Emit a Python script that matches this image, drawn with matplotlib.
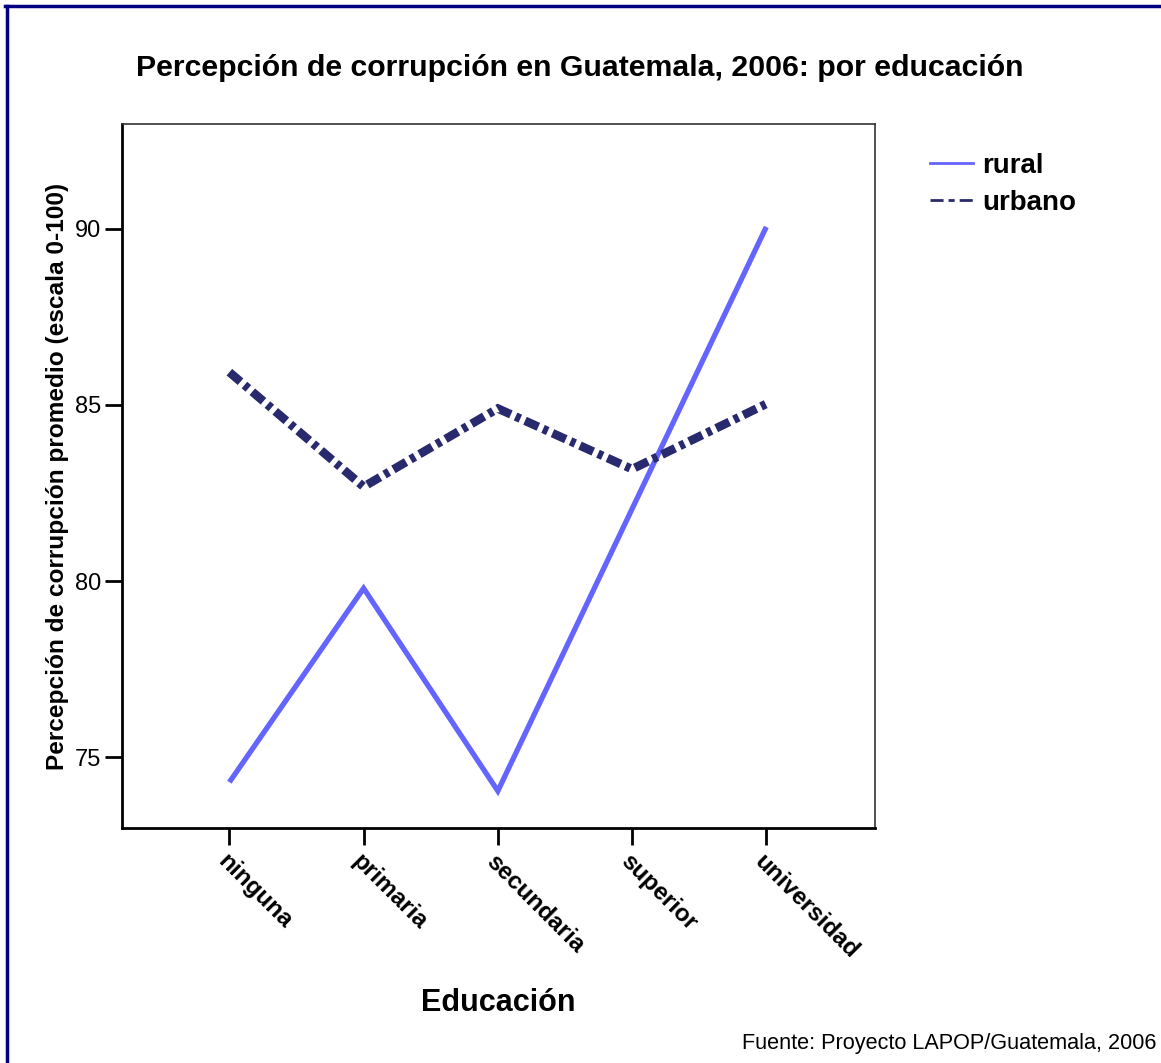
import matplotlib
matplotlib.use("Agg")
import matplotlib.pyplot as plt
from matplotlib.lines import Line2D

plt.rcParams['font.family'] = ['Liberation Sans', 'DejaVu Sans']

# datos
educacion = ["ninguna", "primaria", "secundaria", "superior", "universidad"]
rural = [74.3, 79.8, 74.05, 82.05, 90.05]
urbano = [85.93, 82.68, 84.9, 83.18, 85.03]
yticks = [75, 80, 85, 90]

color_rural = "#6464ff"
color_urbano = "#29296e"
borde = "#000080"

fig = plt.figure(figsize=(11.61, 10.63), dpi=100)
ax = fig.add_axes([122 / 1161, 1 - 828 / 1063, (875 - 122) / 1161, (828 - 124) / 1063])

x = list(range(len(educacion)))
ax.plot(x, rural, color=color_rural, lw=3.8, solid_capstyle="butt", solid_joinstyle="miter")
ax.plot(x, urbano, color=color_urbano, lw=6.2, linestyle=(0, (1.7, 0.6, 0.6, 0.6)),
        dash_capstyle="butt", dash_joinstyle="miter")

ax.set_xlim(-0.8, 4.81)
ax.set_ylim(73.0, 92.97)
ax.set_yticks(yticks)
ax.set_yticklabels([str(v) for v in yticks], fontsize=17)
ax.set_xticks(x)
ax.set_xticklabels(educacion, fontsize=17.5, fontweight="bold", rotation=-45,
                   ha="left", va="top", rotation_mode="anchor")
ax.tick_params(axis="both", direction="out", length=12, width=2, color="black")
ax.tick_params(axis="y", pad=3)
ax.tick_params(axis="x", pad=4)

for lado in ["left", "bottom"]:
    ax.spines[lado].set_linewidth(2)
    ax.spines[lado].set_color("black")
for lado in ["top", "right"]:
    ax.spines[lado].set_linewidth(1.2)
    ax.spines[lado].set_color("#333333")

ax.set_ylabel("Percepción de corrupción promedio (escala 0-100)", fontsize=17.6,
              fontweight="bold", labelpad=4)
ax.set_xlabel("Educación", fontsize=22, fontweight="bold", labelpad=18)

fig.text(580 / 1161, 1 - 68 / 1063, "Percepción de corrupción en Guatemala, 2006: por educación",
         fontsize=21.8, fontweight="bold", ha="center", va="center")

handles = [Line2D([0], [0], color=color_rural, lw=2),
           Line2D([0], [0], color=color_urbano, lw=2, linestyle=(0, (4.7, 1.8, 2.2, 1.8)))]
fig.legend(handles, ["rural", "urbano"], loc="upper left",
           bbox_to_anchor=(905 / 1161, 1 - 128 / 1063), frameon=False,
           prop={"size": 20, "weight": "bold"}, handlelength=1.55, handletextpad=0.32,
           labelspacing=0.38)

fig.text(1157 / 1161, 1 - 1043 / 1063, "Fuente: Proyecto LAPOP/Guatemala, 2006",
         fontsize=15.6, ha="right", va="center")

# borde azul de la figura (solo arriba e izquierda)
fig.add_artist(Line2D([6.5 / 1161, 6.5 / 1161], [0, 1 - 5.5 / 1063], color=borde, lw=2.5,
                      transform=fig.transFigure))
fig.add_artist(Line2D([5 / 1161, 1], [1 - 5.5 / 1063, 1 - 5.5 / 1063], color=borde, lw=2.5,
                      transform=fig.transFigure))

fig.savefig("out.png", dpi=100, facecolor="white")
